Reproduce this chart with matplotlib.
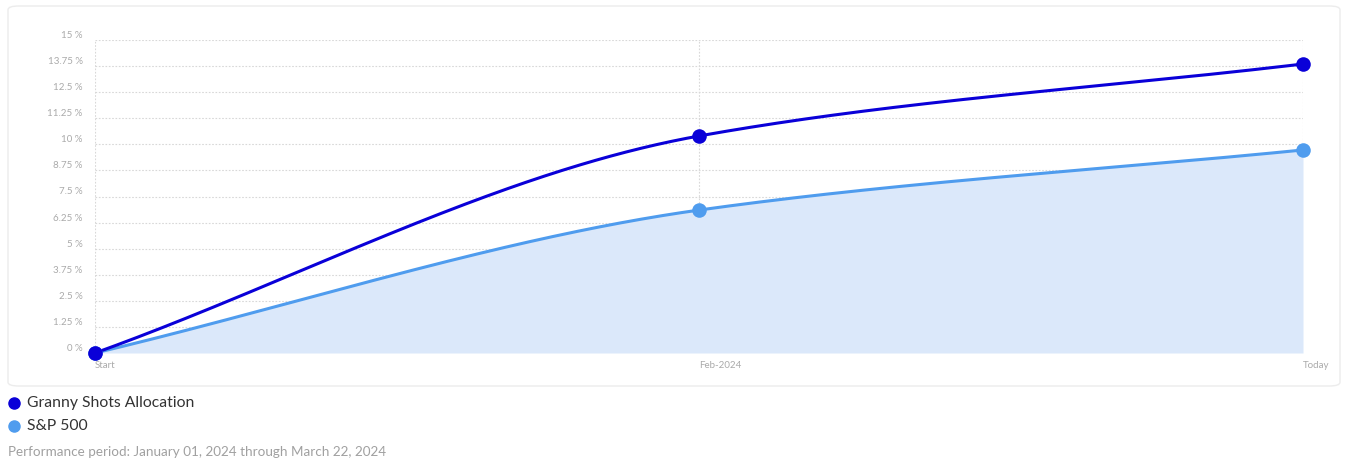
import matplotlib.pyplot as plt
import numpy as np
from matplotlib.lines import Line2D
from matplotlib.patches import FancyBboxPatch

plt.rcParams["font.family"] = ["Lato", "DejaVu Sans"]

categories = ["Start", "Feb-2024", "Today"]
granny = [0.0, 10.4, 13.85]
sp500 = [0.0, 6.85, 9.73]
y_ticks = [0, 1.25, 2.5, 3.75, 5, 6.25, 7.5, 8.75, 10, 11.25, 12.5, 13.75, 15]
y_tick_labels = ["0 %", "1.25 %", "2.5 %", "3.75 %", "5 %", "6.25 %", "7.5 %",
                 "8.75 %", "10 %", "11.25 %", "12.5 %", "13.75 %", "15 %"]

GRANNY_C = "#0a00d8"
SP_C = "#4f9cee"
FILL_C = "#dbe8fa"


def monotone_curve(x, y, n=200):
    """Fritsch-Carlson monotone cubic through the points (smooth line look)."""
    x = np.asarray(x, float)
    y = np.asarray(y, float)
    h = np.diff(x)
    d = np.diff(y) / h
    m = np.zeros_like(y)
    m[0], m[-1] = d[0], d[-1]
    for i in range(1, len(y) - 1):
        if d[i - 1] * d[i] > 0:
            m[i] = 2 / (1 / d[i - 1] + 1 / d[i])
    xs, ys = [], []
    for i in range(len(h)):
        t = np.linspace(0, 1, n)
        h00 = 2 * t**3 - 3 * t**2 + 1
        h10 = t**3 - 2 * t**2 + t
        h01 = -2 * t**3 + 3 * t**2
        h11 = t**3 - t**2
        xs.append(x[i] + t * h[i])
        ys.append(h00 * y[i] + h10 * h[i] * m[i] + h01 * y[i + 1] + h11 * h[i] * m[i + 1])
    return np.concatenate(xs), np.concatenate(ys)


fig = plt.figure(figsize=(13.48, 4.66), dpi=100)

card = FancyBboxPatch((8 / 1348, 1 - 386 / 466), 1332 / 1348, 380 / 466,
                      boxstyle="round,pad=0,rounding_size=0.008",
                      transform=fig.transFigure, facecolor="white",
                      edgecolor="#ececec", linewidth=1.0, zorder=-10)
fig.patches.append(card)

ax = fig.add_axes([95 / 1348, 1 - 353 / 466, (1303 - 95) / 1348, (353 - 40) / 466])
ax.set_facecolor("none")
ax.set_zorder(2)

x = np.arange(len(categories))
gx, gy = monotone_curve(x, granny)
sx, sy = monotone_curve(x, sp500)

ax.fill_between(sx, 0, sy, color=FILL_C, linewidth=0, zorder=1)
ax.plot(sx, sy, color=SP_C, linewidth=2.2, zorder=3, solid_capstyle="round")
ax.plot(gx, gy, color=GRANNY_C, linewidth=2.2, zorder=4, solid_capstyle="round")
ax.scatter(x, sp500, s=110, color=SP_C, zorder=5, clip_on=False, linewidths=0)
ax.scatter(x, granny, s=110, color=GRANNY_C, zorder=6, clip_on=False, linewidths=0)

ax.set_xlim(0, 2)
ax.set_ylim(0, 15)
ax.set_yticks(y_ticks)
# y labels sit a little above their grid lines
ax.set_yticklabels(y_tick_labels, va="bottom")
ax.set_xticks(x)
ax.set_xticklabels(categories, ha="left")
ax.tick_params(axis="both", length=0, labelsize=7, colors="#aaaaaa")
ax.tick_params(axis="y", pad=9)
ax.tick_params(axis="x", pad=6)

ax.grid(True, color="#d8d8d8", linestyle=(0, (1.5, 1.5)), linewidth=0.8, zorder=0)
ax.set_axisbelow(True)
for s in ax.spines.values():
    s.set_visible(False)

# legend under the card
legend_items = [("Granny Shots Allocation", GRANNY_C, 403), ("S&P 500", SP_C, 426)]
for name, col, ypix in legend_items:
    yf = 1 - ypix / 466
    fig.add_artist(Line2D([14 / 1348], [yf], marker="o", markersize=8,
                          color=col, linestyle="none", transform=fig.transFigure))
    fig.text(27 / 1348, yf, name, fontsize=11.3, color="#333333", va="center")

fig.text(8 / 1348, 1 - 452 / 466,
         "Performance period: January 01, 2024 through March 22, 2024",
         fontsize=9.7, color="#a0a0a0", va="center")

fig.savefig("out.png", dpi=100)
